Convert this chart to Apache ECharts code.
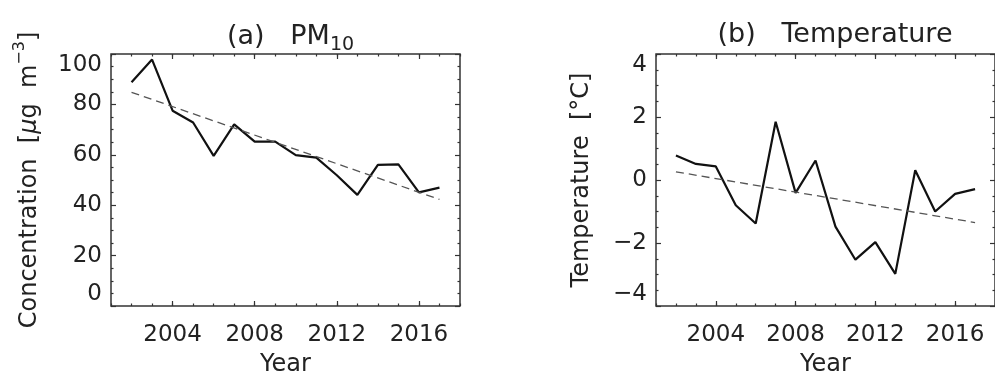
<!DOCTYPE html>
<html>
<head>
<meta charset="utf-8">
<script src="https://cdn.jsdelivr.net/npm/echarts@6/dist/echarts.min.js"></script>
<style>
  html, body { margin: 0; padding: 0; background: #fff; }
  #chart { width: 995px; height: 383px; }
</style>
</head>
<body>
<div id="chart"></div>
<script>
// values
const years = [2002, 2003, 2004, 2005, 2006, 2007, 2008, 2009, 2010, 2011, 2012, 2013, 2014, 2015, 2016, 2017];
const pm10 = [88.8, 97.8, 77.5, 72.8, 59.6, 72.1, 65.2, 65.2, 59.9, 58.9, 51.9, 44.1, 56.0, 56.2, 45.1, 47.0];
const pm10Trend = [[2002, 84.8], [2017, 42.3]];
const temperature = [0.78, 0.51, 0.43, -0.80, -1.38, 1.85, -0.41, 0.62, -1.48, -2.53, -1.97, -2.98, 0.31, -1.00, -0.44, -0.29];
const tempTrend = [[2002, 0.26], [2017, -1.35]];
const yearTicks = [2004, 2008, 2012, 2016];

const font = 'DejaVu Sans';
const textColor = '#222';
const axisColor = '#333';

function xAxes(gridIndex) {
  const base = {
    gridIndex: gridIndex,
    type: 'value',
    min: 2001,
    max: 2018,
    axisLine: { show: false, onZero: false },
    splitLine: { show: false }
  };
  const minorTick = { inside: true, length: 2.5, lineStyle: { color: axisColor, width: 1.2 } };
  const majorTick = { inside: true, length: 5, customValues: yearTicks, lineStyle: { color: axisColor, width: 1.2 } };
  return [
    // labelled axis with the 4-year ticks
    Object.assign({}, base, {
      position: 'bottom',
      axisTick: majorTick,
      axisLabel: {
        customValues: yearTicks,
        margin: 18,
        fontFamily: font,
        fontSize: 23,
        color: textColor,
        formatter: v => String(v)
      },
      name: 'Year',
      nameLocation: 'middle',
      nameGap: 46,
      nameTextStyle: { fontFamily: font, fontSize: 24, color: textColor, lineHeight: 26 }
    }),
    Object.assign({}, base, { position: 'bottom', interval: 1, axisTick: minorTick, axisLabel: { show: false } }),
    Object.assign({}, base, { position: 'top', interval: 1, axisTick: minorTick, axisLabel: { show: false } }),
    Object.assign({}, base, { position: 'top', axisTick: majorTick, axisLabel: { show: false } })
  ];
}

function yAxes(gridIndex, min, max, interval, name, nameGap, nameStyle) {
  const base = {
    gridIndex: gridIndex,
    type: 'value',
    min: min,
    max: max,
    interval: interval,
    axisLine: { show: false, onZero: false },
    splitLine: { show: false },
    axisTick: { inside: true, length: 5, lineStyle: { color: axisColor, width: 1.2 } },
    minorTick: { show: true, splitNumber: 4, length: 2.5, lineStyle: { color: axisColor, width: 1.2 } }
  };
  return [
    Object.assign({}, base, {
      position: 'left',
      axisLabel: {
        fontFamily: font,
        fontSize: 23,
        color: textColor,
        margin: 9,
        verticalAlignMinLabel: 'bottom',
        verticalAlignMaxLabel: 'top',
        formatter: v => String(v).replace('-', '\u2212')
      },
      name: name,
      nameLocation: 'middle',
      nameRotate: 90,
      nameGap: nameGap,
      nameTextStyle: nameStyle
    }),
    Object.assign({}, base, { position: 'right', axisLabel: { show: false } })
  ];
}

const chart = echarts.init(document.getElementById('chart'), null, { renderer: 'canvas' });

const gridBox = { show: true, borderColor: axisColor, borderWidth: 1.5, backgroundColor: 'transparent' };

chart.setOption({
  animation: false,
  backgroundColor: '#fff',
  title: [
    {
      text: '{b|(a)   PM}{s|10}',
      left: 285.5,
      top: 18,
      textAlign: 'center',
      textStyle: {
        fontWeight: 'normal',
        rich: {
          b: { fontFamily: font, fontSize: 27, fontWeight: 'normal', color: textColor, lineHeight: 32, verticalAlign: 'top' },
          s: { fontFamily: font, fontSize: 19, fontWeight: 'normal', color: textColor, lineHeight: 14, verticalAlign: 'bottom' }
        }
      }
    },
    {
      text: '(b)   Temperature',
      left: 830,
      top: 14,
      textAlign: 'center',
      textStyle: { fontFamily: font, fontSize: 27, fontWeight: 'normal', color: textColor, lineHeight: 32 }
    }
  ],
  grid: [
    Object.assign({ left: 111, width: 349, top: 54, bottom: 69 }, gridBox),
    Object.assign({ left: 656, right: -9, top: 54, bottom: 69 }, gridBox)
  ],
  xAxis: xAxes(0).concat(xAxes(1)),
  yAxis: yAxes(0, 0, 100, 20, '{b|Concentration  [}{mu|\u03bc}{b|g  m}{sup|\u22123}{b|]}', 69, {
    rich: {
      b: { fontFamily: font, fontSize: 24, color: textColor, lineHeight: 30, verticalAlign: 'bottom' },
      mu: { fontFamily: font, fontSize: 24, fontStyle: 'italic', color: textColor, lineHeight: 30, verticalAlign: 'bottom' },
      sup: { fontFamily: font, fontSize: 16, color: textColor, lineHeight: 12, verticalAlign: 'top' }
    }
  }).concat(yAxes(1, -4, 4, 2, 'Temperature  [\u00b0C]', 61, {
    fontFamily: font, fontSize: 24, color: textColor, lineHeight: 26
  })),
  series: [
    {
      type: 'line',
      xAxisIndex: 0,
      yAxisIndex: 0,
      data: years.map((y, i) => [y, pm10[i]]),
      showSymbol: false,
      lineStyle: { color: '#111', width: 2.2 },
      z: 3
    },
    {
      type: 'line',
      xAxisIndex: 0,
      yAxisIndex: 0,
      data: pm10Trend,
      showSymbol: false,
      lineStyle: { color: '#555', width: 1.3, type: [8, 5] }
    },
    {
      type: 'line',
      xAxisIndex: 4,
      yAxisIndex: 2,
      data: years.map((y, i) => [y, temperature[i]]),
      showSymbol: false,
      lineStyle: { color: '#111', width: 2.2 },
      z: 3
    },
    {
      type: 'line',
      xAxisIndex: 4,
      yAxisIndex: 2,
      data: tempTrend,
      showSymbol: false,
      lineStyle: { color: '#555', width: 1.3, type: [8, 5] }
    }
  ]
});
</script>
</body>
</html>
